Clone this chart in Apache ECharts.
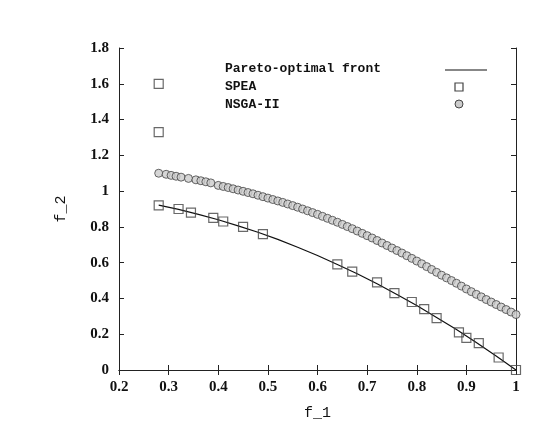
<!DOCTYPE html>
<html><head><meta charset="utf-8">
<script src="https://cdn.jsdelivr.net/npm/echarts@6/dist/echarts.min.js"></script>
<style>html,body{margin:0;background:#fff}#c{width:538px;height:438px}</style>
</head><body><div id="c"></div>
<script>
const xTicks=[0.2,0.3,0.4,0.5,0.6,0.7,0.8,0.9,1];
const yTicks=[0,0.2,0.4,0.6,0.8,1,1.2,1.4,1.6,1.8];
const legendNames=['Pareto-optimal front','SPEA','NSGA-II'];
const frontX=[0.28,0.32,0.36,0.40,0.44,0.48,0.52,0.56,0.60,0.64,0.68,0.72,0.76,0.80,0.84,0.88,0.92,0.96,1.0];
const frontY=[0.922,0.898,0.870,0.840,0.806,0.770,0.730,0.686,0.640,0.590,0.538,0.482,0.422,0.360,0.294,0.226,0.154,0.078,0.0];
const speaX=[0.28,0.28,0.28,0.32,0.345,0.39,0.41,0.45,0.49,0.64,0.67,0.72,0.755,0.79,0.815,0.84,0.885,0.90,0.925,0.965,1.0];
const speaY=[1.60,1.33,0.92,0.90,0.88,0.85,0.83,0.80,0.76,0.59,0.55,0.49,0.43,0.38,0.34,0.29,0.21,0.18,0.15,0.07,0.0];
const nsgaX=[0.28,0.295,0.305,0.315,0.325,0.34,0.355,0.365,0.375,0.385,0.40,0.41,0.42,0.43,0.44,0.45,0.46,0.47,0.48,0.49,0.50,0.51,0.52,0.53,0.54,0.55,0.56,0.57,0.58,0.59,0.60,0.61,0.62,0.63,0.64,0.65,0.66,0.67,0.68,0.69,0.70,0.71,0.72,0.73,0.74,0.75,0.76,0.77,0.78,0.79,0.80,0.81,0.82,0.83,0.84,0.85,0.86,0.87,0.88,0.89,0.90,0.91,0.92,0.93,0.94,0.95,0.96,0.97,0.98,0.99,1.0];
const nsgaY=[1.100,1.094,1.088,1.083,1.078,1.071,1.063,1.058,1.052,1.046,1.032,1.026,1.020,1.013,1.006,0.999,0.992,0.985,0.977,0.969,0.961,0.953,0.945,0.937,0.928,0.919,0.910,0.900,0.890,0.880,0.870,0.859,0.848,0.837,0.826,0.814,0.802,0.790,0.777,0.764,0.751,0.738,0.724,0.710,0.696,0.682,0.668,0.654,0.639,0.624,0.609,0.594,0.578,0.562,0.546,0.530,0.515,0.500,0.485,0.469,0.453,0.438,0.423,0.409,0.394,0.380,0.366,0.352,0.338,0.324,0.310];
const zip=(a,b)=>a.map((v,i)=>[v,b[i]]);
const axLine={lineStyle:{color:'#222',width:1}};
const tick={inside:true,length:5,lineStyle:{color:'#222'}};
const fmt=v=>String(Math.round(v*10)/10);
const mono={fontFamily:'Liberation Mono',fontWeight:'bold',fontSize:13,fill:'#111'};
const chart=echarts.init(document.getElementById('c'));
chart.setOption({
 animation:false,
 grid:{left:119,right:22,top:48,bottom:68},
 graphic:[
  {type:'text',left:225,top:62,style:Object.assign({text:legendNames[0]},mono)},
  {type:'text',left:225,top:80,style:Object.assign({text:legendNames[1]},mono)},
  {type:'text',left:225,top:98,style:Object.assign({text:legendNames[2]},mono)},
  {type:'line',shape:{x1:445,y1:70,x2:487,y2:70},style:{stroke:'#111',lineWidth:1.2}},
  {type:'rect',shape:{x:455,y:83,width:8,height:8},style:{fill:'none',stroke:'#444',lineWidth:1.2}},
  {type:'circle',shape:{cx:459,cy:104,r:4},style:{fill:'#ccc',stroke:'#444',lineWidth:1}}
 ],
 xAxis:[{type:'value',min:0.2,max:1,interval:0.1,axisLine:axLine,axisTick:tick,splitLine:{show:false},
   axisLabel:{margin:10,formatter:fmt,fontFamily:'Liberation Serif',fontWeight:'bold',fontSize:15,color:'#111'},
   name:'f_1',nameLocation:'middle',nameGap:36,nameTextStyle:{fontFamily:'Liberation Mono',fontSize:15,color:'#111'}},
  {type:'value',position:'top',min:0.2,max:1,interval:0.1,axisLine:axLine,axisTick:tick,axisLabel:{show:false},splitLine:{show:false}}],
 yAxis:[{type:'value',min:0,max:1.8,interval:0.2,axisLine:axLine,axisTick:tick,splitLine:{show:false},
   axisLabel:{margin:10,formatter:fmt,fontFamily:'Liberation Serif',fontWeight:'bold',fontSize:15,color:'#111'},
   name:'f_2',nameLocation:'middle',nameGap:50,nameRotate:90,nameTextStyle:{fontFamily:'Liberation Mono',fontSize:15,color:'#111'}},
  {type:'value',position:'right',min:0,max:1.8,interval:0.2,axisLine:axLine,axisTick:tick,axisLabel:{show:false},splitLine:{show:false}}],
 series:[
  {name:legendNames[0],type:'line',data:zip(frontX,frontY),symbol:'none',lineStyle:{color:'#111',width:1.2},z:1},
  {name:legendNames[1],type:'scatter',data:zip(speaX,speaY),symbol:'rect',symbolSize:9,itemStyle:{color:'rgba(255,255,255,0)',borderColor:'#444',borderWidth:1.2},z:3},
  {name:legendNames[2],type:'scatter',data:zip(nsgaX,nsgaY),symbol:'circle',symbolSize:8,itemStyle:{color:'#ccc',borderColor:'#444',borderWidth:1},z:2}
 ]
});
</script></body></html>
